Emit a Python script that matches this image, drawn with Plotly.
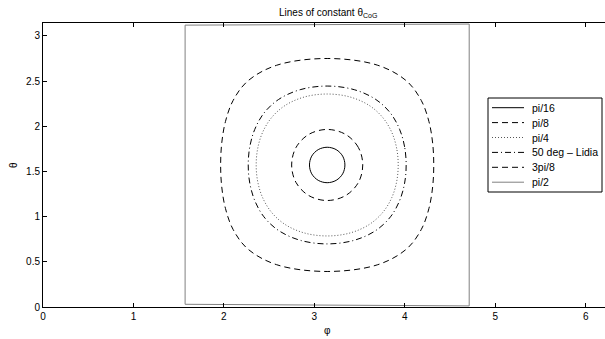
import plotly.graph_objects as go

# contour of constant theta_CoG (phi, theta in rad)
labels = ["pi/16", "pi/8", "pi/4", "50 deg \u2013 Lidia", "3pi/8", "pi/2"]

phi_pi16 = [3.338, 3.313, 3.241, 3.142, 3.043, 2.971, 2.946, 2.971, 3.043, 3.142, 3.241, 3.313, 3.338]
theta_pi16 = [1.571, 1.669, 1.741, 1.767, 1.741, 1.669, 1.571, 1.473, 1.401, 1.375, 1.401, 1.473, 1.571]

phi_pi8 = [3.535, 3.487, 3.346, 3.142, 2.938, 2.797, 2.749, 2.797, 2.938, 3.142, 3.346, 3.487, 3.535]
theta_pi8 = [1.571, 1.764, 1.909, 1.964, 1.909, 1.764, 1.571, 1.378, 1.233, 1.178, 1.233, 1.378, 1.571]

phi_pi4 = [3.927, 3.910, 3.856, 3.757, 3.606, 3.395, 3.142,
           2.889, 2.678, 2.527, 2.428, 2.374, 2.357,
           2.374, 2.428, 2.527, 2.678, 2.889, 3.142,
           3.395, 3.606, 3.757, 3.856, 3.910, 3.927]
theta_pi4 = [1.571, 1.755, 1.932, 2.095, 2.230, 2.323, 2.356,
             2.323, 2.230, 2.095, 1.932, 1.755, 1.571,
             1.387, 1.210, 1.047, 0.912, 0.819, 0.786,
             0.819, 0.912, 1.047, 1.210, 1.387, 1.571]

phi_50 = [4.015, 3.998, 3.943, 3.842, 3.679, 3.441, 3.142,
          2.843, 2.605, 2.442, 2.341, 2.286, 2.269,
          2.286, 2.341, 2.442, 2.605, 2.843, 3.142,
          3.441, 3.679, 3.842, 3.943, 3.998, 4.015]
theta_50 = [1.571, 1.771, 1.964, 2.144, 2.296, 2.404, 2.444,
            2.404, 2.296, 2.144, 1.964, 1.771, 1.571,
            1.371, 1.178, 0.998, 0.846, 0.738, 0.698,
            0.738, 0.846, 0.998, 1.178, 1.371, 1.571]

phi_3pi8 = [4.320, 4.308, 4.267, 4.183, 4.021, 3.701, 3.142,
            2.583, 2.263, 2.101, 2.017, 1.976, 1.964,
            1.976, 2.017, 2.101, 2.263, 2.583, 3.142,
            3.701, 4.021, 4.183, 4.267, 4.308, 4.320]
theta_3pi8 = [1.571, 1.812, 2.051, 2.283, 2.499, 2.674, 2.749,
              2.674, 2.499, 2.283, 2.051, 1.812, 1.571,
              1.330, 1.091, 0.859, 0.643, 0.468, 0.393,
              0.468, 0.643, 0.859, 1.091, 1.330, 1.571]

phi_pi2 = [1.571, 4.712, 4.712, 1.571, 1.571]
theta_pi2 = [0.030, 0.012, 3.130, 3.118, 0.030]

x_ticks = [0, 1, 2, 3, 4, 5, 6]
y_ticks = [0, 0.5, 1, 1.5, 2, 2.5, 3]

colors = ["#000000", "#000000", "#555555", "#000000", "#000000", "#808080"]
dashes = ["solid", "6px,4px", "1px,2px", "6px,3px,1px,3px", "6px,4px", "solid"]
shapes_ = ["spline", "spline", "spline", "spline", "spline", "linear"]
xs = [phi_pi16, phi_pi8, phi_pi4, phi_50, phi_3pi8, phi_pi2]
ys = [theta_pi16, theta_pi8, theta_pi4, theta_50, theta_3pi8, theta_pi2]

W, H = 605, 339
ML, MR, MT, MB = 43, 0, 23, 32
PW, PH = W - ML - MR, H - MT - MB


def px2paper_x(p):
    return (p - ML) / PW


def px2paper_y(p):
    return (H - MB - p) / PH


fig = go.Figure()
for name, px, py, col, dash, shp in zip(labels, xs, ys, colors, dashes, shapes_):
    fig.add_trace(go.Scatter(
        x=px, y=py, mode="lines", name=name, showlegend=False,
        line=dict(color=col, width=1, dash=dash, shape=shp, smoothing=1.0),
    ))

font = dict(family="Liberation Sans, Arial, Helvetica, sans-serif", size=10, color="#000000")

# hand-drawn legend box (MATLAB style)
leg_left, leg_right, leg_top, leg_bot = 488, 602, 98, 192
row_y = [107.7, 122.6, 137.5, 152.4, 167.3, 182.2]
shapes = [dict(type="rect", xref="paper", yref="paper",
               x0=px2paper_x(leg_left), x1=px2paper_x(leg_right),
               y0=px2paper_y(leg_bot), y1=px2paper_y(leg_top),
               fillcolor="white", line=dict(color="#000000", width=1), layer="above")]
annotations = []
for name, col, dash, ry in zip(labels, colors, dashes, row_y):
    shapes.append(dict(type="line", xref="paper", yref="paper",
                       x0=px2paper_x(492), x1=px2paper_x(524),
                       y0=px2paper_y(ry), y1=px2paper_y(ry),
                       line=dict(color=col, width=1, dash=dash), layer="above"))
    annotations.append(dict(text=name, xref="paper", yref="paper",
                            x=px2paper_x(530), y=px2paper_y(ry),
                            xanchor="left", yanchor="middle", showarrow=False,
                            font=dict(family=font["family"], size=10.5, color="#000000")))

annotations += [
    dict(text="Lines of constant \u03b8<sub>CoG</sub>", xref="paper", yref="paper",
         x=px2paper_x(327.5), y=1.0, xanchor="center", yanchor="bottom", yshift=2,
         showarrow=False, font=font),
    dict(text="\u03c6", xref="paper", yref="paper", x=px2paper_x(327.5), y=0,
         xanchor="center", yanchor="top", yshift=-16, showarrow=False, font=font),
    dict(text="\u03b8", xref="paper", yref="paper", x=0, y=0.5, xanchor="center",
         yanchor="middle", xshift=-30, textangle=-90, showarrow=False, font=font),
]

fig.update_layout(
    width=W, height=H,
    margin=dict(l=ML, r=MR, t=MT, b=MB),
    paper_bgcolor="white", plot_bgcolor="white",
    font=font,
    showlegend=False,
    xaxis=dict(
        range=[0, PW / 90.45], tickvals=x_ticks, ticktext=[str(v) for v in x_ticks],
        showgrid=False, zeroline=False, showline=True, linecolor="#000000", linewidth=1,
        mirror="ticks", ticks="inside", ticklen=4, tickcolor="#000000",
        tickfont=font,
    ),
    yaxis=dict(
        range=[0, 3.14159], tickvals=y_ticks, ticktext=["0", "0.5", "1", "1.5", "2", "2.5", "3"],
        showgrid=False, zeroline=False, showline=True, linecolor="#000000", linewidth=1,
        mirror=False, ticks="inside", ticklen=4, tickcolor="#000000",
        tickfont=font,
    ),
    shapes=shapes,
    annotations=annotations,
)

fig.write_html("out.html")
